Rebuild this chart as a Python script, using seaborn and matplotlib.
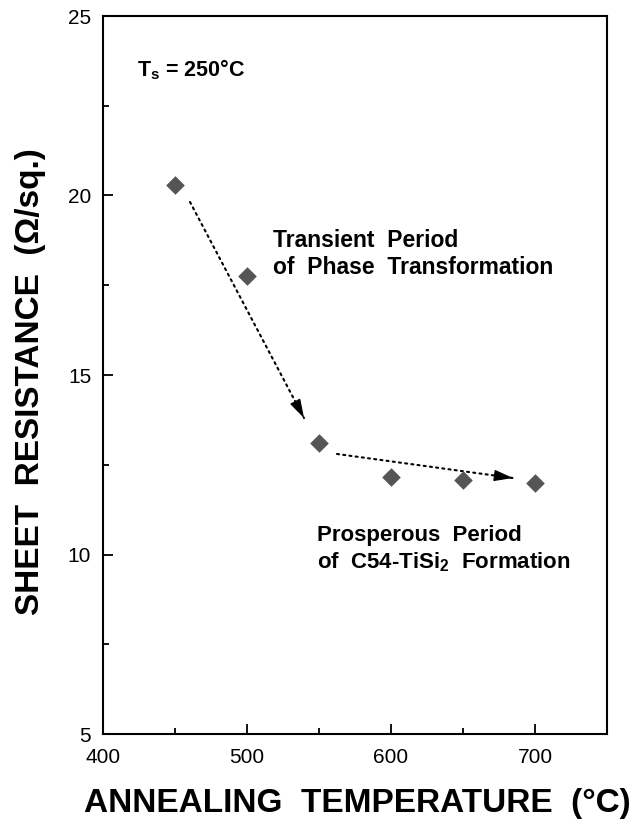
import matplotlib
matplotlib.use("Agg")
import matplotlib.pyplot as plt
import seaborn as sns
import pandas as pd
import numpy as np
from matplotlib.ticker import MultipleLocator

temps = [450, 500, 550, 600, 650, 700]
resistance = [20.29, 17.76, 13.11, 12.16, 12.08, 12.0]
xticks = [400, 500, 600, 700]
yticks = [5, 10, 15, 20, 25]

sns.set_theme(style="ticks")
plt.rcParams['font.family'] = ['Liberation Sans', 'DejaVu Sans']
plt.rcParams['mathtext.fontset'] = 'custom'
plt.rcParams['mathtext.rm'] = 'Liberation Sans:bold'
for k in ['text.color', 'axes.labelcolor', 'xtick.color', 'ytick.color', 'axes.edgecolor']:
    plt.rcParams[k] = 'black'

df = pd.DataFrame({"T": temps, "R": resistance})

fig = plt.figure(figsize=(6.36, 8.21), dpi=100)
ax = fig.add_axes([103/636, 1 - 734/821, 504/636, 718/821])

sns.scatterplot(data=df, x="T", y="R", marker="D", s=90, color="#555555",
                edgecolor="#555555", linewidth=0, ax=ax, zorder=3)

ax.set_xlim(400, 750)
ax.set_ylim(5, 25)
ax.set_xticks(xticks)
ax.set_yticks(yticks)
ax.xaxis.set_minor_locator(MultipleLocator(50))
ax.yaxis.set_minor_locator(MultipleLocator(2.5))
ax.tick_params(which='major', direction='in', length=7, width=1.3,
               labelsize=15, pad=8.5)
ax.tick_params(axis='x', which='major', pad=10)
ax.tick_params(which='minor', direction='in', length=4, width=1.3)
ax.tick_params(top=False, right=False, which='both')
for sp in ax.spines.values():
    sp.set_linewidth(1.5)

ax.set_xlabel("ANNEALING  TEMPERATURE  (°C)", fontsize=24, fontweight='bold')
ax.set_ylabel("SHEET  RESISTANCE  (Ω/sq.)", fontsize=24, fontweight='bold')
ax.xaxis.label.set_va('center')
ax.yaxis.label.set_va('center')
ax.xaxis.set_label_coords((357 - 103) / 504, (734 - 803) / 718)
ax.yaxis.set_label_coords((31 - 103) / 504, (734 - 382) / 718)

ax.text(423.6, 23.5, r"T$_\mathregular{s}$ = 250°C", fontsize=15.5,
        fontweight='bold', va='center', ha='left')
ax.text(518, 18.37, "Transient  Period\nof  Phase  Transformation", fontsize=16.5,
        fontweight='bold', va='center', ha='left', linespacing=1.2)
ax.text(548.6, 10.15, "Prosperous  Period\nof  C54-TiSi$_\\mathregular{2}$  Formation",
        fontsize=16, fontweight='bold', va='center', ha='left', linespacing=1.25)

arrows = [((460.4, 19.82), (539.6, 13.80)),
          ((562.5, 12.80), (684.7, 12.13))]
head_px = 13
for (x0, y0), (x1, y1) in arrows:
    ax.plot([x0, x1], [y0, y1], color='black', lw=1.5,
            linestyle=(0, (1, 2)), dash_capstyle='round')
    p0 = ax.transData.transform((x0, y0))
    p1 = ax.transData.transform((x1, y1))
    frac = head_px / np.hypot(*(p1 - p0))
    xb, yb = x1 - frac * (x1 - x0), y1 - frac * (y1 - y0)
    ax.annotate("", xy=(x1, y1), xytext=(xb, yb),
                arrowprops=dict(arrowstyle='-|>,head_length=1.0,head_width=0.3',
                                color='black', lw=0.8, shrinkA=0, shrinkB=0))

fig.savefig("out.png", dpi=100)
